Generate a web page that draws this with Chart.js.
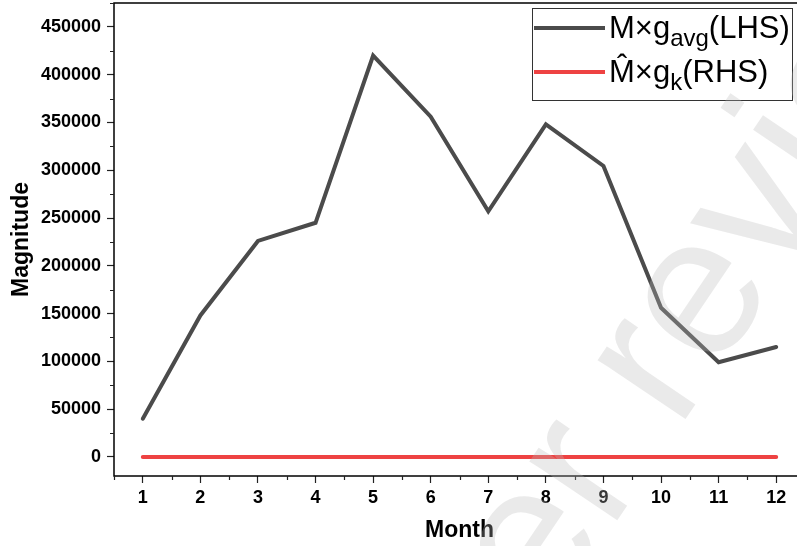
<!DOCTYPE html>
<html>
<head>
<meta charset="utf-8">
<script src="https://cdn.jsdelivr.net/npm/chart.js@4/dist/chart.umd.min.js"></script>
<style>
  html, body { margin: 0; padding: 0; background: #fff; }
  #wrap { width: 797px; height: 546px; overflow: hidden; position: relative; }
  canvas { display: block; }
</style>
</head>
<body>
<div id="wrap"><canvas id="myChart" width="820" height="546" style="width:820px;height:546px"></canvas></div>
<script>
"use strict";

// data
const months = [1, 2, 3, 4, 5, 6, 7, 8, 9, 10, 11, 12];
const lhsValues = [40000, 148000, 226000, 245000, 420000, 356000, 257000, 348000, 304500, 156000, 99000, 115000];
const rhsValues = [0, 0, 0, 0, 0, 0, 0, 0, 0, 0, 0, 0];

const xTicks = [1, 2, 3, 4, 5, 6, 7, 8, 9, 10, 11, 12];
const yTicks = [0, 50000, 100000, 150000, 200000, 250000, 300000, 350000, 400000, 450000];

const seriesMain = ["M×g", "M\u0302×g"];
const seriesSub = ["avg", "k"];
const seriesTail = ["(LHS)", "(RHS)"];
const seriesColors = ["#4b4b4b", "#ee4242"];

const FONT = "'Liberation Sans', Arial, sans-serif";

function toPoints(values) {
  let pts = [];
  for (let i = 0; i < months.length; i++) {
    pts.push({ x: months[i], y: values[i] });
  }
  return pts;
}

// minor ticks halfway between the major ones
function minorTicks(scale, majors) {
  let step = majors[1] - majors[0];
  let out = [];
  let v = majors[0] - step / 2;
  while (v <= scale.max + 1e-9) {
    if (v >= scale.min - 1e-9) out.push(v);
    v += step;
  }
  return out;
}

const extras = {
  id: "extras",
  afterDraw(chart) {
    const ctx = chart.ctx;
    const area = chart.chartArea;
    const xs = chart.scales.x;
    const ys = chart.scales.y;

    ctx.save();
    // frame
    ctx.strokeStyle = "#000";
    ctx.lineWidth = 1.5;
    ctx.strokeRect(area.left, area.top, area.right - area.left, area.bottom - area.top);

    // minor ticks
    ctx.lineWidth = 1.2;
    ctx.strokeStyle = "#222";
    ctx.beginPath();
    minorTicks(xs, xTicks).forEach(function (v) {
      let px = Math.round(xs.getPixelForValue(v)) + 0.5;
      ctx.moveTo(px, area.bottom);
      ctx.lineTo(px, area.bottom + 4);
    });
    minorTicks(ys, yTicks).forEach(function (v) {
      let py = Math.round(ys.getPixelForValue(v)) + 0.5;
      ctx.moveTo(area.left, py);
      ctx.lineTo(area.left - 4, py);
    });
    ctx.stroke();

    // legend
    ctx.fillStyle = "#fff";
    ctx.fillRect(532, 8, 261, 92);
    ctx.strokeStyle = "#333";
    ctx.lineWidth = 1;
    ctx.strokeRect(532.5, 8.5, 260, 92);
    const rowY = [28, 72];
    for (let i = 0; i < seriesMain.length; i++) {
      ctx.strokeStyle = seriesColors[i];
      ctx.lineWidth = 4;
      ctx.beginPath();
      ctx.moveTo(534, rowY[i]);
      ctx.lineTo(605, rowY[i]);
      ctx.stroke();

      let x = 609;
      let base = rowY[i] + 10;
      ctx.fillStyle = "#000";
      ctx.textBaseline = "alphabetic";
      ctx.textAlign = "left";
      ctx.font = "31px " + FONT;
      ctx.fillText(seriesMain[i], x, base);
      x += ctx.measureText(seriesMain[i]).width;
      ctx.font = "24px " + FONT;
      ctx.fillText(seriesSub[i], x, base + 8);
      x += ctx.measureText(seriesSub[i]).width;
      ctx.font = "31px " + FONT;
      ctx.fillText(seriesTail[i], x, base);
    }

    // watermark
    ctx.translate(703, 300);
    ctx.rotate(-56 * Math.PI / 180);
    ctx.font = "200px " + FONT;
    ctx.fillStyle = "rgba(185, 185, 185, 0.3)";
    ctx.textAlign = "left";
    ctx.textBaseline = "alphabetic";
    let before = ctx.measureText("Under r").width;
    let eW = ctx.measureText("e").width;
    ctx.fillText("Under review", -before - eW / 2, 0.26 * 200);
    ctx.restore();
  }
};

const config = {
  type: "line",
  data: {
    datasets: [
      {
        label: seriesMain[0] + seriesSub[0] + seriesTail[0],
        data: toPoints(lhsValues),
        borderColor: seriesColors[0],
        borderWidth: 4,
        pointRadius: 0,
        borderCapStyle: "round",
        borderJoinStyle: "miter",
        tension: 0,
      },
      {
        label: seriesMain[1] + seriesSub[1] + seriesTail[1],
        data: toPoints(rhsValues),
        borderColor: seriesColors[1],
        borderWidth: 4,
        pointRadius: 0,
        borderCapStyle: "round",
        tension: 0,
      },
    ],
  },
  options: {
    responsive: false,
    animation: false,
    layout: { padding: { top: 3, right: 15, left: 0, bottom: 0 } },
    plugins: {
      legend: { display: false },
      tooltip: { enabled: false },
    },
    scales: {
      x: {
        type: "linear",
        min: 0.5,
        max: 12.5,
        afterBuildTicks: function (scale) {
          scale.ticks = xTicks.map(function (v) { return { value: v }; });
        },
        afterFit: function (scale) {
          scale.height = 70;
          scale.paddingLeft = 0;
          scale.paddingRight = 0;
        },
        border: { display: false },
        grid: { drawOnChartArea: false, drawTicks: true, tickLength: 7, tickWidth: 1.2, tickColor: "#222" },
        ticks: {
          color: "#000",
          padding: 4,
          maxRotation: 0,
          autoSkip: false,
          font: { family: FONT, size: 18, weight: "bold" },
        },
        title: {
          display: true,
          text: "Month",
          color: "#000",
          font: { family: FONT, size: 23, weight: "bold" },
          padding: { top: 0, bottom: 2 },
        },
      },
      y: {
        type: "linear",
        min: -20000,
        max: 475000,
        afterBuildTicks: function (scale) {
          scale.ticks = yTicks.map(function (v) { return { value: v }; });
        },
        afterFit: function (scale) {
          scale.width = 114;
          scale.paddingTop = 0;
          scale.paddingBottom = 0;
        },
        border: { display: false },
        grid: { drawOnChartArea: false, drawTicks: true, tickLength: 7, tickWidth: 1.2, tickColor: "#222" },
        ticks: {
          color: "#000",
          padding: 6,
          autoSkip: false,
          font: { family: FONT, size: 18, weight: "bold" },
          callback: function (v) { return String(v); },
        },
        title: {
          display: true,
          text: "Magnitude",
          color: "#000",
          font: { family: FONT, size: 23, weight: "bold" },
          padding: { top: 8, bottom: 0 },
        },
      },
    },
  },
  plugins: [extras],
};

const canvasChart = document.getElementById("myChart");
new Chart(canvasChart, config);
</script>
</body>
</html>
